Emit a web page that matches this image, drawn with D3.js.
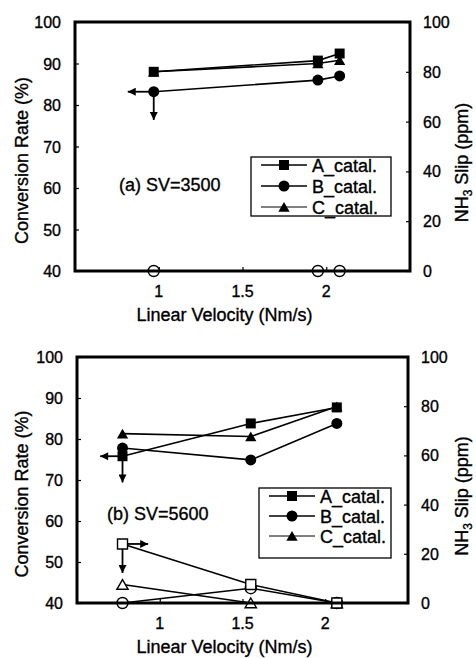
<!DOCTYPE html>
<html><head><meta charset="utf-8">
<script src="https://cdn.jsdelivr.net/npm/d3@7"></script>
<style>body{margin:0;background:#fff}svg{display:block}text{font-family:"Liberation Sans",Arial,sans-serif;fill:#000;stroke:#000;stroke-width:0.35px}</style>
</head><body>
<svg id="c" width="476" height="658"></svg>
<script>
// ---- data ----
const seriesNames = ["A_catal.", "B_catal.", "C_catal."];
const xTicks = [1, 1.5, 2];
const yLeftTicks = [40, 50, 60, 70, 80, 90, 100];
const yRightTicks = [0, 20, 40, 60, 80, 100];

const topVel = [0.97, 1.95, 2.08];
const topConvA = [88, 90.7, 92.4];
const topConvB = [83.2, 86, 87];
const topConvC = [88, 90, 90.8];
const topSlipB = [0, 0, 0];

const botVel = [0.775, 1.55, 2.07];
const botConvA = [75.8, 83.8, 87.7];
const botConvB = [77.8, 74.9, 83.8];
const botConvC = [81.3, 80.6, 87.9];
const botSlipA = [24, 7.5, 0];
const botSlipB = [0, 6, 0];
const botSlipC = [7.5, 0, 0];

const svg = d3.select("#c");
const defs = svg.append("defs");
defs.append("marker").attr("id","ah").attr("viewBox","0 0 10 10").attr("refX",10).attr("refY",5)
  .attr("markerWidth",10).attr("markerHeight",8).attr("markerUnits","userSpaceOnUse").attr("orient","auto")
  .append("path").attr("d","M0,0L10,5L0,10Z").attr("fill","#000");

const shapes = {A: d3.symbolSquare, B: d3.symbolCircle, C: d3.symbolTriangle};
const sizes = {A: 100, B: 95, C: 55};

function panel(cfg) {
  const g = svg.append("g");
  const x = d3.scaleLinear().domain([0.5, 2.5]).range([cfg.l, cfg.r]);
  const yL = d3.scaleLinear().domain([40, 100]).range([cfg.b, cfg.t]);
  const yR = d3.scaleLinear().domain([0, 100]).range([cfg.b, cfg.t]);

  // axes (inward ticks)
  const ax = g.append("g").attr("transform",`translate(0,${cfg.b})`)
    .call(d3.axisTop(x).tickValues(xTicks).tickSize(4).tickFormat(""));
  const axL = g.append("g").attr("transform",`translate(${cfg.l},0)`)
    .call(d3.axisRight(yL).tickValues(yLeftTicks).tickSize(4).tickFormat(""));
  const axR = g.append("g").attr("transform",`translate(${cfg.r},0)`)
    .call(d3.axisLeft(yR).tickValues(yRightTicks).tickSize(4).tickFormat(""));
  [ax, axL, axR].forEach(a => { a.select(".domain").remove(); a.selectAll("line").attr("stroke","#000").attr("stroke-width",1.2); });

  // tick labels
  g.selectAll(".xl").data(xTicks).join("text").attr("x", d => x(d)).attr("y", cfg.b + 26)
    .attr("text-anchor","middle").attr("font-size",16).text(d => d);
  g.selectAll(".yl").data(yLeftTicks).join("text").attr("x", cfg.l - 14).attr("y", d => yL(d) + 6)
    .attr("text-anchor","end").attr("font-size",16).text(d => d);
  g.selectAll(".yr").data(yRightTicks).join("text").attr("x", cfg.r + 13).attr("y", d => yR(d) + 6)
    .attr("text-anchor","start").attr("font-size",16).text(d => d);

  // axis titles
  g.append("text").attr("x", (cfg.l + cfg.r)/2 - 18).attr("y", cfg.b + 50).attr("text-anchor","middle")
    .attr("font-size",18).text("Linear Velocity (Nm/s)");
  g.append("text").attr("transform",`translate(28,${(cfg.t+cfg.b)/2 + 14}) rotate(-90)`).attr("text-anchor","middle")
    .attr("font-size",18).text("Conversion Rate (%)");
  const rt = g.append("text").attr("transform",`translate(468,${(cfg.t+cfg.b)/2 + 16}) rotate(-90)`).attr("text-anchor","middle")
    .attr("font-size",18);
  rt.append("tspan").text("NH");
  rt.append("tspan").attr("font-size",12).attr("dy",4).text("3");
  rt.append("tspan").attr("dy",-4).text(" Slip (ppm)");

  // label
  g.append("text").attr("x", cfg.labX).attr("y", cfg.labY).attr("font-size",18).text(cfg.label);

  const line = (ys, yS) => d3.line().x((d,i) => x(cfg.vel[i])).y(d => yS(d))(ys);

  // conversion lines + slip lines
  cfg.conv.forEach(s => g.append("path").attr("d", line(s.v, yL)).attr("fill","none").attr("stroke","#000").attr("stroke-width",1.6));
  cfg.slip.forEach(s => g.append("path").attr("d", line(s.v, yR)).attr("fill","none").attr("stroke","#000").attr("stroke-width",1.6));

  // arrows
  cfg.arrows.forEach(a => {
    const yS = a.axis === "L" ? yL : yR;
    g.append("line").attr("x1", x(a.x0)).attr("y1", yS(a.y0)).attr("x2", x(a.x1)).attr("y2", yS(a.y1))
      .attr("stroke","#000").attr("stroke-width",1.8).attr("marker-end","url(#ah)");
  });

  // markers
  cfg.slip.forEach(s => g.selectAll(null).data(s.v).join("path")
    .attr("transform",(d,i) => `translate(${x(cfg.vel[i])},${yR(d) + (s.k==="C"?1.5:0)})`)
    .attr("d", d3.symbol(shapes[s.k], sizes[s.k])()).attr("fill","#fff").attr("stroke","#000").attr("stroke-width",1.4));
  cfg.conv.forEach(s => g.selectAll(null).data(s.v).join("path")
    .attr("transform",(d,i) => `translate(${x(cfg.vel[i])},${yL(d) + (s.k==="C"?1.5:0)})`)
    .attr("d", d3.symbol(shapes[s.k], sizes[s.k])()).attr("fill","#000"));

  // frame
  g.append("rect").attr("x", cfg.l).attr("y", cfg.t).attr("width", cfg.r - cfg.l).attr("height", cfg.b - cfg.t)
    .attr("fill","none").attr("stroke","#000").attr("stroke-width",3);

  // legend
  const L = cfg.leg;
  g.append("rect").attr("x", L.x).attr("y", L.y).attr("width", L.w).attr("height", L.h)
    .attr("fill","#fff").attr("stroke","#000").attr("stroke-width",1.3);
  seriesNames.forEach((nm, i) => {
    const k = "ABC"[i];
    const yy = L.y + 8 + i * L.dy;
    g.append("line").attr("x1", L.x + 10).attr("x2", L.x + 56).attr("y1", yy).attr("y2", yy)
      .attr("stroke","#000").attr("stroke-width", k === "C" ? 1 : 1.5);
    g.append("path").attr("transform",`translate(${L.x + 33},${yy + (k==="C"?1.5:0)})`)
      .attr("d", d3.symbol(shapes[k], sizes[k])()).attr("fill","#000");
    g.append("text").attr("x", L.x + 61).attr("y", yy + 6.5).attr("font-size",18).text(nm);
  });
}

panel({
  l: 75, r: 410, t: 22, b: 271, vel: topVel,
  label: "(a) SV=3500", labX: 119, labY: 191,
  conv: [{k:"C", v: topConvC}, {k:"B", v: topConvB}, {k:"A", v: topConvA}],
  slip: [{k:"B", v: topSlipB}],
  arrows: [
    {axis:"L", x0: 0.97, y0: 83.2, x1: 0.815, y1: 83.2},
    {axis:"L", x0: 0.97, y0: 83.2, x1: 0.97, y1: 76.4}
  ],
  leg: {x: 251, y: 157, w: 140, h: 59, dy: 21}
});

panel({
  l: 77, r: 408, t: 357, b: 603, vel: botVel,
  label: "(b) SV=5600", labX: 107, labY: 520,
  conv: [{k:"C", v: botConvC}, {k:"B", v: botConvB}, {k:"A", v: botConvA}],
  slip: [{k:"C", v: botSlipC}, {k:"B", v: botSlipB}, {k:"A", v: botSlipA}],
  arrows: [
    {axis:"L", x0: 0.775, y0: 75.8, x1: 0.64, y1: 75.8},
    {axis:"L", x0: 0.775, y0: 75.8, x1: 0.775, y1: 69.4},
    {axis:"R", x0: 0.775, y0: 24, x1: 0.93, y1: 24},
    {axis:"R", x0: 0.775, y0: 24, x1: 0.775, y1: 12.2}
  ],
  leg: {x: 259, y: 488, w: 132, h: 70, dy: 20}
});
</script>
</body></html>
